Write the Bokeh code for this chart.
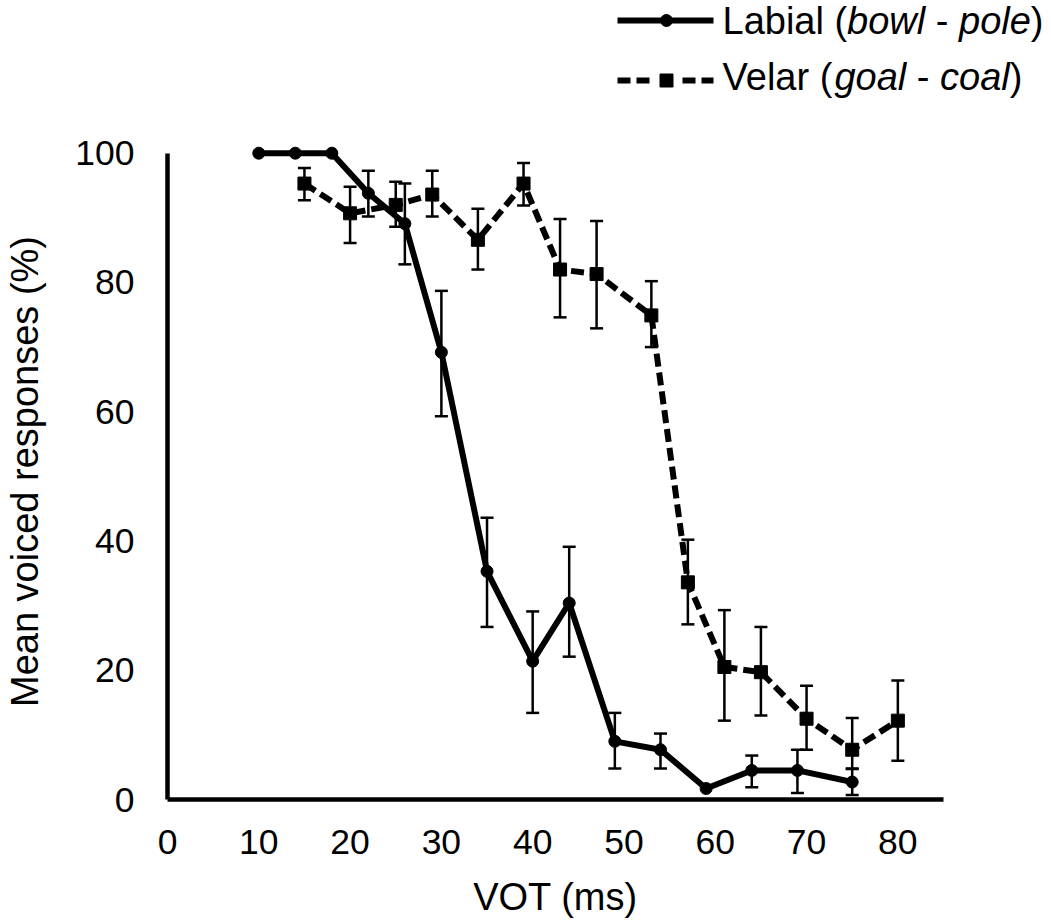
from bokeh.plotting import figure
from bokeh.models import ColumnDataSource, Whisker, TeeHead, Range1d, FixedTicker
from bokeh.core.properties import value
from bokeh.embed import file_html
from bokeh.resources import INLINE

# ---------------- data ----------------
labial_vot = [10, 14, 18, 22, 26, 30, 35, 40, 44, 49, 54, 59, 64, 69, 75]
labial_mean = [100, 100, 100, 93.8, 89.1, 69.2, 35.3, 21.4, 30.4, 9.0, 7.7, 1.7, 4.5, 4.5, 2.7]
labial_lower = [100, 100, 100, 90.2, 82.8, 59.3, 26.7, 13.4, 22.1, 4.8, 4.8, 1.7, 1.9, 1.0, 0.7]
labial_upper = [100, 100, 100, 97.3, 95.3, 78.7, 43.6, 29.1, 39.1, 13.4, 10.2, 1.7, 6.8, 7.7, 4.7]

velar_vot = [15, 20, 25, 29, 34, 39, 43, 47, 53, 57, 61, 65, 70, 75, 80]
velar_mean = [95.3, 90.7, 92.0, 93.6, 86.6, 95.3, 82.0, 81.3, 74.9, 33.6, 20.5, 19.7, 12.5, 7.7, 12.2]
velar_lower = [92.7, 86.1, 88.6, 90.2, 82.0, 91.9, 74.6, 72.9, 70.0, 27.1, 12.2, 13.0, 7.7, 4.8, 6.0]
velar_upper = [97.7, 94.8, 95.6, 97.3, 91.4, 98.5, 89.8, 89.5, 80.2, 40.2, 29.3, 26.7, 17.6, 12.6, 18.4]

x_ticks = [0, 10, 20, 30, 40, 50, 60, 70, 80]
y_ticks = [0, 20, 40, 60, 80, 100]
y_axis_end = 100

x_label = "VOT (ms)"
y_label = "Mean voiced responses (%)"
labial_legend = [("Labial (", False), ("bowl", True), (" - ", False), ("pole", True), (")", False)]
velar_legend = [("Velar (", False), ("goal", True), (" - ", False), ("coal", True), (")", False)]

FONT = "Liberation Sans"

CW = {' ': 278, '(': 333, ')': 333, '-': 333, 'L': 556, 'V': 667, 'a': 556, 'b': 556,
      'c': 500, 'e': 556, 'g': 556, 'i': 222, 'l': 222, 'o': 556, 'p': 556, 'r': 333, 'w': 722}

def tw(s, fs):
    return sum(CW[c] for c in s) * fs / 1000.0

W = 1050
LEG_H = 110                      # legend strip height (page px)
MAIN_H = 922 - LEG_H
PX_PER_Y = 6.46
Y_RANGE_END = 101.5              # a little headroom so the 100 % markers are not clipped
FRAME_TOP = 143 - LEG_H          # y = 100 at page y ~153
FRAME_BOTTOM = 799 - LEG_H       # y = 0 at page y 799

# ---------------- main plot ----------------
p = figure(width=W, height=MAIN_H, x_range=Range1d(0, 85), y_range=Range1d(0, Y_RANGE_END),
           output_backend="svg", toolbar_location=None,
           min_border_left=167, min_border_right=W - 167 - 776,
           min_border_top=FRAME_TOP, min_border_bottom=MAIN_H - FRAME_BOTTOM)
p.outline_line_color = None
p.grid.visible = False
p.background_fill_color = "white"
p.border_fill_color = "white"

p.xaxis.ticker = FixedTicker(ticks=x_ticks)
p.yaxis.ticker = FixedTicker(ticks=y_ticks)
p.yaxis.bounds = (0, y_axis_end)
p.xaxis.axis_label = x_label
p.yaxis.axis_label = y_label
for ax in p.xaxis + p.yaxis:
    ax.axis_line_width = 4.5
    ax.axis_line_color = "black"
    ax.major_tick_line_color = None
    ax.minor_tick_line_color = None
    ax.major_tick_in = 0
    ax.major_tick_out = 0
    ax.major_label_text_font = FONT
    ax.major_label_text_font_size = "35.5px"
    ax.major_label_text_color = "black"
    ax.axis_label_text_font = FONT
    ax.axis_label_text_font_size = "38px"
    ax.axis_label_text_font_style = "normal"
    ax.axis_label_text_color = "black"
p.xaxis.major_label_standoff = 30
p.yaxis.major_label_standoff = 33
p.xaxis.axis_label_standoff = 19
p.yaxis.axis_label_standoff = 26

def err_source(xs, lo, hi):
    idx = [i for i in range(len(xs)) if hi[i] > lo[i]]
    return ColumnDataSource(dict(base=[xs[i] for i in idx],
                                 lower=[lo[i] for i in idx],
                                 upper=[hi[i] for i in idx]))

for xs, lo, hi in [(labial_vot, labial_lower, labial_upper), (velar_vot, velar_lower, velar_upper)]:
    w = Whisker(source=err_source(xs, lo, hi), base="base", lower="lower", upper="upper",
                line_width=2.5, line_color="black", level="overlay",
                upper_head=TeeHead(size=13, line_width=2.5, line_color="black"),
                lower_head=TeeHead(size=13, line_width=2.5, line_color="black"))
    p.add_layout(w)

p.line(labial_vot, labial_mean, line_width=6, line_color="black", line_join="round")
p.scatter(labial_vot, labial_mean, marker="circle", size=12, fill_color="black", line_color="black")
p.line(velar_vot, velar_mean, line_width=6, line_color="black", line_dash="13 6")
p.scatter(velar_vot, velar_mean, marker="square", size=13, fill_color="black", line_color="black")

# ---------------- legend strip (separate root above, pixel coordinates) ----------------
leg = figure(width=W, height=LEG_H, x_range=Range1d(0, W), y_range=Range1d(LEG_H, 0),
             output_backend="svg", toolbar_location=None, min_border=0,
             x_axis_type=None, y_axis_type=None)
leg.outline_line_color = None
leg.grid.visible = False
leg.background_fill_color = "white"
leg.border_fill_color = "white"

KEY_L, KEY_R, KEY_MID = 617, 713, 666
ROW1, ROW2 = 20, 80
leg.line([KEY_L, KEY_R], [ROW1, ROW1], line_width=6, line_color="black")
leg.scatter([KEY_MID], [ROW1], marker="circle", size=12, color="black")
leg.line([KEY_L, KEY_MID - 17], [ROW2, ROW2], line_width=6, line_color="black", line_dash="13 6")
leg.line([KEY_MID + 16, KEY_R], [ROW2, ROW2], line_width=6, line_color="black", line_dash="13 6")
leg.scatter([KEY_MID], [ROW2], marker="square", size=13, color="black")

FS = 38.0
TEXT_X = 722
for base_y, parts in [(20, labial_legend), (76, velar_legend)]:
    x = TEXT_X
    for txt, ital in parts:
        core = txt.strip()
        lead = txt[:len(txt) - len(txt.lstrip())]
        leg.text(x=[x + tw(lead, FS)], y=[base_y], text=[core], text_font=value(FONT),
                 text_font_size=value(f"{FS}px"), text_font_style="italic" if ital else "normal",
                 text_baseline="alphabetic", text_align="left", text_color="black")
        x += tw(txt, FS)

open("out.html", "w").write(file_html([leg, p], INLINE))
